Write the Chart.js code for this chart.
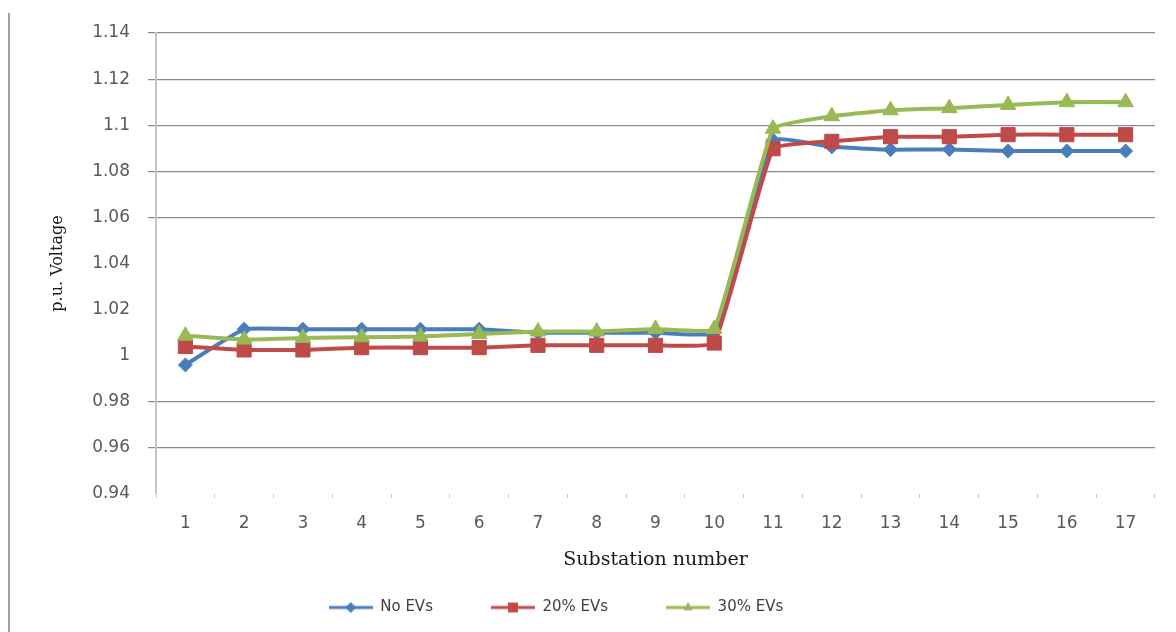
<!DOCTYPE html>
<html lang="en">
<head>
  <meta charset="UTF-8" />
  <title>p.u. Voltage per substation</title>
  <script src="https://cdn.jsdelivr.net/npm/chart.js"></script>
  <style>
    html, body { margin: 0; padding: 0; background: #fff; }
    #wrap { position: relative; width: 1176px; height: 632px; }
    #frame { position: absolute; left: 8px; top: 13px; bottom: 0; border-left: 2px solid #a0a0a0; }
    canvas { position: absolute; left: 0; top: 0; }
  </style>
</head>
<body>
  <div id="wrap">
    <div id="frame"></div>
    <canvas id="chart" width="1176" height="632"></canvas>
  </div>

  <script>
    const substations = ["1", "2", "3", "4", "5", "6", "7", "8", "9", "10", "11", "12", "13", "14", "15", "16", "17"];
    const noEVs = [0.996, 1.0115, 1.0115, 1.0115, 1.0115, 1.0115, 1.010, 1.010, 1.010, 1.010, 1.0935, 1.0906, 1.0894, 1.0895, 1.0888, 1.0888, 1.0888];
    const ev20 = [1.004, 1.0025, 1.0025, 1.0035, 1.0035, 1.0035, 1.0045, 1.0045, 1.0045, 1.0055, 1.0898, 1.093, 1.095, 1.095, 1.0959, 1.0959, 1.0959];
    const ev30 = [1.0087, 1.007, 1.0077, 1.008, 1.0083, 1.0094, 1.0105, 1.0105, 1.0116, 1.0116, 1.0985, 1.1039, 1.1065, 1.1074, 1.1088, 1.110, 1.110];
    const yTicksNoGrid = [1.04, 1.02, 1.0, 0.94];   // these lines don't show in the original

    const BLUE = "#4a7ebb", RED = "#be4b48", GREEN = "#98b954";

    // line + marker sample for the legend, drawn with Chart's own point helper
    function legendIcon(color, style, r) {
      const c = document.createElement("canvas");
      c.width = 44; c.height = 16;
      const g = c.getContext("2d");
      g.strokeStyle = color;
      g.lineWidth = 3;
      g.beginPath(); g.moveTo(0, 8); g.lineTo(44, 8); g.stroke();
      g.fillStyle = color;
      Chart.helpers.drawPoint(g, { pointStyle: style, radius: r, rotation: 0, borderWidth: 0 }, 22, 8);
      return c;
    }

    function series(label, data, color, style, radius, order) {
      return {
        label: label,
        data: data,
        borderColor: color,
        backgroundColor: color,
        borderWidth: 4,
        pointStyle: style,
        pointRadius: radius,
        pointBorderWidth: 1,
        tension: 0.1,
        order: order,
        fill: false
      };
    }

    new Chart(document.getElementById("chart"), {
      type: "line",
      data: {
        labels: substations,
        datasets: [
          series("No EVs", noEVs, BLUE, "rectRot", 7, 3),
          series("20% EVs", ev20, RED, "rect", 10, 2),
          series("30% EVs", ev30, GREEN, "triangle", 9, 1)
        ]
      },
      options: {
        responsive: false,
        animation: false,
        layout: { padding: { left: -43, right: 21, top: 33, bottom: 7 } },
        plugins: {
          tooltip: { enabled: false },
          legend: {
            position: "bottom",
            labels: {
              usePointStyle: true,
              pointStyleWidth: 44,
              padding: 58,
              color: "#404040",
              font: { family: "DejaVu Sans", size: 15 },
              generateLabels: (chart) => chart.data.datasets.map((ds, i) => ({
                text: ds.label,
                pointStyle: legendIcon(ds.borderColor, ds.pointStyle, ds.pointStyle === "rect" ? 7 : 5.5),
                fillStyle: ds.borderColor,
                strokeStyle: ds.borderColor,
                lineWidth: 0,
                hidden: false,
                datasetIndex: i,
                fontColor: "#404040"
              }))
            }
          }
        },
        scales: {
          x: {
            offset: true,
            grid: { offset: true, drawOnChartArea: false, tickLength: 4, color: "#c8c8c8" },
            border: { display: false },
            ticks: { padding: 15, color: "#595959", font: { family: "DejaVu Sans", size: 17 } },
            title: {
              display: true,
              text: "Substation number",
              color: "#1a1a1a",
              font: { family: "DejaVu Serif", size: 19 },
              padding: { top: 0, bottom: -29 }
            },
            afterFit: (s) => { s.height = 48; s.paddingLeft = 0; s.paddingRight = 0; }
          },
          y: {
            min: 0.94,
            max: 1.14,
            ticks: {
              stepSize: 0.02,
              padding: 18,
              color: "#595959",
              font: { family: "DejaVu Sans", size: 17 },
              callback: (v) => String(parseFloat(v.toFixed(2)))
            },
            grid: {
              tickLength: 8,
              lineWidth: 1.2,
              color: (ctx) => yTicksNoGrid.some(h => Math.abs(ctx.tick.value - h) < 1e-6) ? "rgba(0,0,0,0)" : "#8a8a8a"
            },
            border: { color: "#c4c4c4", width: 2 },
            title: {
              display: true,
              text: "p.u. Voltage",
              color: "#1a1a1a",
              font: { family: "DejaVu Serif", size: 16 },
              padding: { top: 91, bottom: 0 }
            },
            afterFit: (s) => { s.width = 199; s.paddingTop = 0; s.paddingBottom = 0; }
          }
        }
      }
    });
  </script>
</body>
</html>
